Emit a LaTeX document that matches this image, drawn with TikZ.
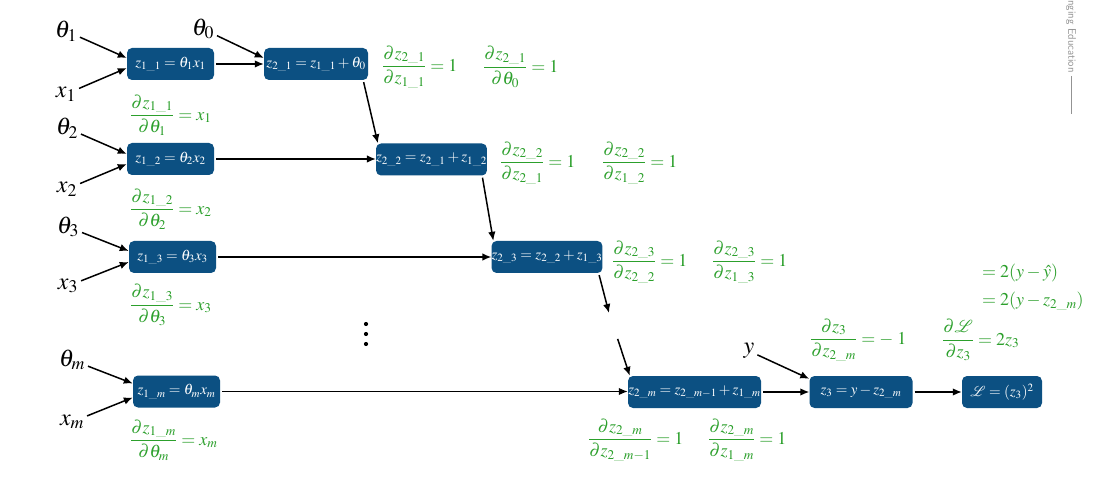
\documentclass[tikz,border=0pt]{standalone}
\usepackage{amsmath}
\usepackage{mathptmx}
\usepackage{mathrsfs}
\usetikzlibrary{arrows.meta}
\definecolor{boxblue}{RGB}{12,80,130}
\definecolor{dgreen}{RGB}{44,160,44}
\newcommand{\us}{\text{\_}}
\begin{document}
\begin{tikzpicture}[x=1pt,y=-1pt,
 box/.style={fill=boxblue, rounded corners=5pt, text=white, inner sep=0pt, minimum height=32pt, font=\fontsize{15}{17}\selectfont},
 lbl/.style={inner sep=1pt, font=\fontsize{24}{26}\selectfont},
 der/.style={anchor=west, inner sep=0pt, text=dgreen, font=\fontsize{18}{20}\selectfont},
 arr/.style={-{Latex[length=9pt,width=7.5pt]}, line width=1.5pt, shorten <=2pt},
]
\useasboundingbox (0,0) rectangle (1098,478);
\fill[white] (0,0) rectangle (1098,478);

% boxes
\node[box, minimum width=87pt]  (z11) at (170.5,64)  {$z_{1\us1}=\theta_1x_1$};
\node[box, minimum width=104pt] (z21) at (316,64)    {$z_{2\us1}=z_{1\us1}+\theta_0$};
\node[box, minimum width=87pt]  (z12) at (170.5,159) {$z_{1\us2}=\theta_2x_2$};
\node[box, minimum width=103pt] (z22) at (431.5,159.5) {$z_{2\us2}=z_{2\us1}+z_{1\us2}$};
\node[box, minimum width=87pt]  (z13) at (172.5,257) {$z_{1\us3}=\theta_3x_3$};
\node[box, minimum width=104pt] (z23) at (547,257)   {$z_{2\us3}=z_{2\us2}+z_{1\us3}$};
\node[box, minimum width=87pt]  (z1m) at (176.5,391.5) {$z_{1\us m}=\theta_mx_m$};
\node[box, minimum width=133pt] (z2m) at (694.5,392) {$z_{2\us m}=z_{2\us m-1}+z_{1\us m}$};
\node[box, minimum width=103pt] (z3)  at (861,392)   {$z_3=y-z_{2\us m}$};
\node[box, minimum width=80pt]  (L)   at (1002,392)  {$\mathscr{L}=(z_3)^2$};

% input labels
\node[lbl] (t1) at (66,31)  {$\theta_1$};
\node[lbl] (x1) at (66,94)  {$x_1$};
\node[lbl] (t0) at (203,29) {$\theta_0$};
\node[lbl] (t2) at (67,128) {$\theta_2$};
\node[lbl] (x2) at (67,189) {$x_2$};
\node[lbl] (t3) at (68,227) {$\theta_3$};
\node[lbl] (x3) at (68,286) {$x_3$};
\node[lbl] (tm) at (72,360) {$\theta_m$};
\node[lbl] (xm) at (72,422) {$x_m$};
\node[lbl] (y)  at (749,351) {$y$};

% vertical dots
\foreach \yy in {324,334,344} \fill (366,\yy) circle (2.1);

\coordinate (c1) at (609,313);
\coordinate (c2) at (617,337);

% connectors
\draw[arr] (t1) -- ([yshift=6pt]z11.west);
\draw[arr] (x1) -- ([yshift=-4pt]z11.west);
\draw[arr] (t0) -- ([yshift=6pt]z21.west);
\draw[arr] (z11.east) -- (z21.west);
\draw[arr] (t2) -- ([yshift=5pt]z12.west);
\draw[arr] (x2) -- ([yshift=-5pt]z12.west);
\draw[arr] (z12.east) -- (z12.east -| z22.west);
\draw[arr] ([xshift=-5pt]z21.south east) -- ([xshift=2pt]z22.north west);
\draw[arr] (t3) -- ([yshift=6pt]z13.west);
\draw[arr] (x3) -- ([yshift=-5pt]z13.west);
\draw[arr] (z13.east) -- (z13.east -| z23.west);
\draw[arr] ([xshift=-5pt]z22.south east) -- ([xshift=2pt]z23.north west);
\draw[arr] ([xshift=-4pt]z23.south east) -- (c1);
\draw[arr] (c2) -- ([xshift=2pt]z2m.north west);
\draw[arr] (tm) -- ([yshift=8pt]z1m.west);
\draw[arr] (xm) -- ([yshift=-6pt]z1m.west);
\draw[arr] (z1m.east) -- (z1m.east -| z2m.west);
\draw[arr] (z2m.east) -- (z3.west);
\draw[arr] (y) -- ([yshift=-3pt]z3.north west);
\draw[arr] (z3.east) -- (L.west);

% derivatives
\node[der] (d1)  at (130,115) {$\displaystyle\frac{\partial z_{1\us1}}{\partial\theta_1}=x_1$};
\node[der] (d2)  at (382,67)  {$\displaystyle\frac{\partial z_{2\us1}}{\partial z_{1\us1}}=1$};
\node[der] (d3)  at (483,67)  {$\displaystyle\frac{\partial z_{2\us1}}{\partial\theta_0}=1$};
\node[der] (d4)  at (130,209) {$\displaystyle\frac{\partial z_{1\us2}}{\partial\theta_2}=x_2$};
\node[der] (d5)  at (130,305) {$\displaystyle\frac{\partial z_{1\us3}}{\partial\theta_3}=x_3$};
\node[der] (d6)  at (500,163) {$\displaystyle\frac{\partial z_{2\us2}}{\partial z_{2\us1}}=1$};
\node[der] (d7)  at (602,163) {$\displaystyle\frac{\partial z_{2\us2}}{\partial z_{1\us2}}=1$};
\node[der] (d8)  at (612,262) {$\displaystyle\frac{\partial z_{2\us3}}{\partial z_{2\us2}}=1$};
\node[der] (d9)  at (712,262) {$\displaystyle\frac{\partial z_{2\us3}}{\partial z_{1\us3}}=1$};
\node[der] (d10) at (130,440) {$\displaystyle\frac{\partial z_{1\us m}}{\partial\theta_m}=x_m$};
\node[der] (d11) at (588,440) {$\displaystyle\frac{\partial z_{2\us m}}{\partial z_{2\us m-1}}=1$};
\node[der] (d12) at (708,440) {$\displaystyle\frac{\partial z_{2\us m}}{\partial z_{1\us m}}=1$};
\node[der] (d13) at (810,340) {$\displaystyle\frac{\partial z_3}{\partial z_{2\us m}}=-\;1$};
\node[der] (d14) at (942,340) {$\displaystyle\frac{\partial \mathscr{L}}{\partial z_3}=2z_3$};
\node[der] (e1)  at (982,273) {$=2(y-\hat{y})$};
\node[der] (e2)  at (982,301) {$=2(y-z_{2\us m})$};

% watermark fragment
\node[rotate=-90, anchor=west, text=gray!85, inner sep=0pt, font=\sffamily\fontsize{11}{12}\selectfont] (wm) at (1071,0) {nging Education \rule[0.25em]{38pt}{0.6pt}};
\end{tikzpicture}
\end{document}
